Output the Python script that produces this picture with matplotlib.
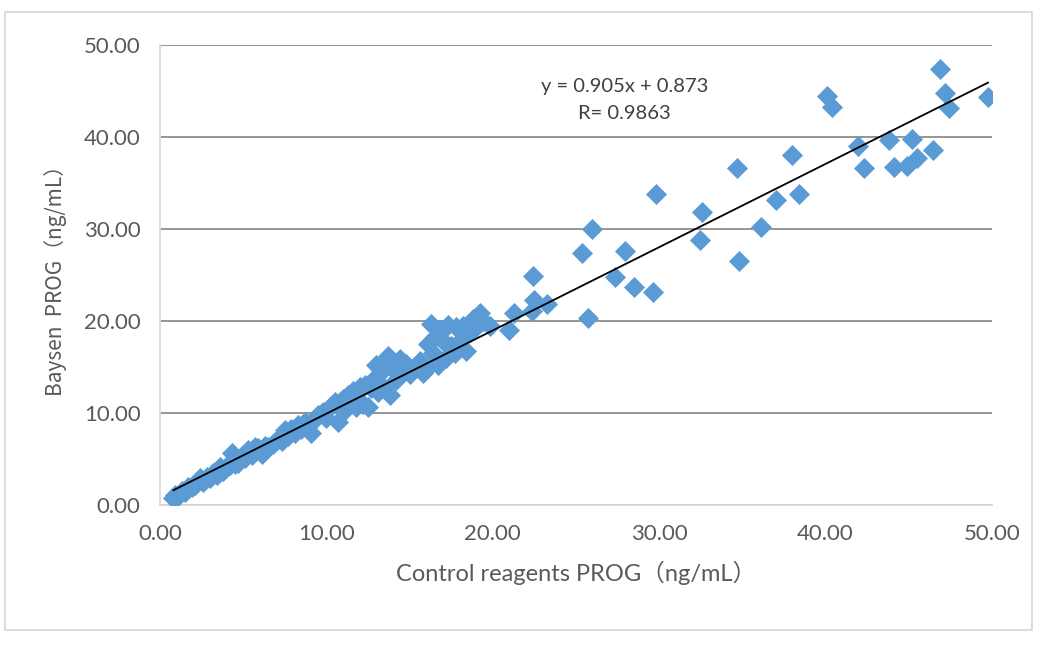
import matplotlib.pyplot as plt
from matplotlib.patches import Rectangle

# Control reagents PROG (x) vs Baysen PROG (y), ng/mL
control = [0.8, 0.9, 1.0, 1.3, 1.5, 1.7, 1.9, 2.1, 2.4, 2.6, 2.8, 3.0, 3.2, 3.4,
           3.6, 3.8, 4.0, 4.2, 4.3, 4.5, 4.7, 4.9, 5.1, 5.3, 5.5, 5.7, 5.9, 6.1,
           6.3, 6.5, 6.8, 7.0, 7.3, 7.5, 7.7, 7.9, 8.1, 8.3, 8.5, 8.7, 8.9, 9.1,
           9.3, 9.5,
           9.8, 10.0, 10.3, 10.5, 10.7, 10.8, 11.0, 11.1, 11.3, 11.5, 11.6, 11.8,
           12.0, 12.2, 12.3, 12.5, 12.7, 12.9, 13.0, 13.1, 13.3, 13.4, 13.6, 13.7,
           13.8, 14.0, 14.2, 14.4, 14.6, 14.8, 15.0, 15.3, 15.6, 15.8, 16.0, 16.1,
           16.3, 16.4, 16.5, 16.7, 16.8, 17.0, 17.2, 17.3, 17.5, 17.7, 17.8, 18.0,
           18.2, 18.4, 18.6, 18.8, 19.0, 19.2, 19.4, 19.8,
           21.0, 21.3, 22.35, 22.4, 22.5, 23.25, 25.36, 25.7, 25.96, 27.35, 27.95,
           28.5, 29.6, 29.8, 32.45, 32.6, 34.7, 34.8, 36.1, 37.0, 38.0, 38.4,
           40.1, 40.4, 41.95, 42.3, 43.8, 44.1, 44.9, 45.2, 45.5, 46.45, 46.9,
           47.2, 47.4, 49.76]
baysen = [0.8, 1.1, 0.9, 1.5, 1.4, 1.9, 2.0, 2.2, 2.9, 2.5, 3.0, 2.9, 3.5, 3.3,
          4.1, 3.7, 4.2, 4.3, 5.6, 4.5, 4.6, 5.3, 5.1, 6.0, 5.4, 6.3, 6.2, 5.5,
          6.4, 6.3, 6.6, 7.1, 6.9, 8.1, 7.5, 8.3, 7.8, 8.7, 8.3, 9.0, 8.6, 7.8,
          9.3, 9.8,
          10.1, 9.5, 10.8, 11.2, 9.0, 10.5, 11.5, 10.3, 12.0, 11.2, 12.4, 10.6,
          12.8, 11.0, 13.0, 10.6, 12.7, 13.8, 15.2, 12.3, 14.5, 12.8, 15.8, 16.2,
          12.0, 14.8, 13.6, 15.9, 14.5, 15.3, 14.2, 14.9, 15.6, 14.3, 14.8, 17.5,
          19.7, 16.5, 18.3, 15.2, 19.0, 17.8, 16.0, 19.6, 17.3, 16.5, 19.3, 17.8,
          19.5, 16.7, 18.8, 20.2, 19.3, 20.9, 20.0, 19.4,
          19.0, 20.9, 21.1, 24.9, 22.3, 21.85, 27.4, 20.3, 30.0, 24.8, 27.6,
          23.7, 23.15, 33.8, 28.8, 31.85, 36.6, 26.5, 30.2, 33.15, 38.0, 33.8,
          44.5, 43.3, 39.0, 36.6, 39.7, 36.7, 36.8, 39.8, 37.7, 38.6, 47.4,
          44.8, 43.2, 44.35]

slope = 0.905
intercept = 0.873
r_value = 0.9863
xticks = [0, 10, 20, 30, 40, 50]
yticks = [0, 10, 20, 30, 40, 50]

fig = plt.figure(figsize=(10.48, 6.45), dpi=100)
ax = fig.add_axes([0.1527, 0.2171, 0.7939, 0.7132])

ax.scatter(control, baysen, marker='D', s=115, color='#5B9BD5', linewidths=0, zorder=3)

x0, x1 = min(control), max(control)
ax.plot([x0, x1], [slope * x0 + intercept, slope * x1 + intercept],
        color='black', linewidth=1.3, zorder=4)

ax.text(27.9, 45.5, 'y = %.3fx + %.3f' % (slope, intercept), ha='center', va='center',
        fontsize=14.5, color='#404040', family='Lato')
ax.text(27.9, 42.5, 'R= %.4f' % r_value, ha='center', va='center',
        fontsize=14.5, color='#404040', family='Lato')

ax.set_xlim(0, 50)
ax.set_ylim(0, 50)
ax.set_xticks(xticks)
ax.set_yticks(yticks)
ax.set_xticklabels(['%.2f' % t for t in xticks])
ax.set_yticklabels(['%.2f' % t for t in yticks])
ax.tick_params(length=0, labelsize=16, colors='#595959', pad=14)
for lab in ax.get_xticklabels() + ax.get_yticklabels():
    lab.set_family('Lato')
ax.grid(axis='y', color='#8c8c8c', linewidth=1.3, zorder=0)
ax.set_axisbelow(True)
for side in ['top', 'right']:
    ax.spines[side].set_visible(False)
for side in ['left', 'bottom']:
    ax.spines[side].set_color('#d9d9d9')
    ax.spines[side].set_linewidth(1.3)

ax.set_xlabel('Control reagents PROG（ng/mL）', fontsize=17, color='#595959',
              family=['Lato', 'Noto Sans CJK SC'], labelpad=12)
ax.set_ylabel('Baysen  PROG（ng/mL）', fontsize=15, color='#595959',
              family=['Noto Sans CJK SC', 'DejaVu Sans'], labelpad=12)

fig.patches.append(Rectangle((5 / 1048, 1 - 630 / 645), 1027 / 1048, 618 / 645,
                             transform=fig.transFigure, fill=False,
                             edgecolor='#d9d9d9', linewidth=1.3))

plt.savefig('out.png', dpi=100)
